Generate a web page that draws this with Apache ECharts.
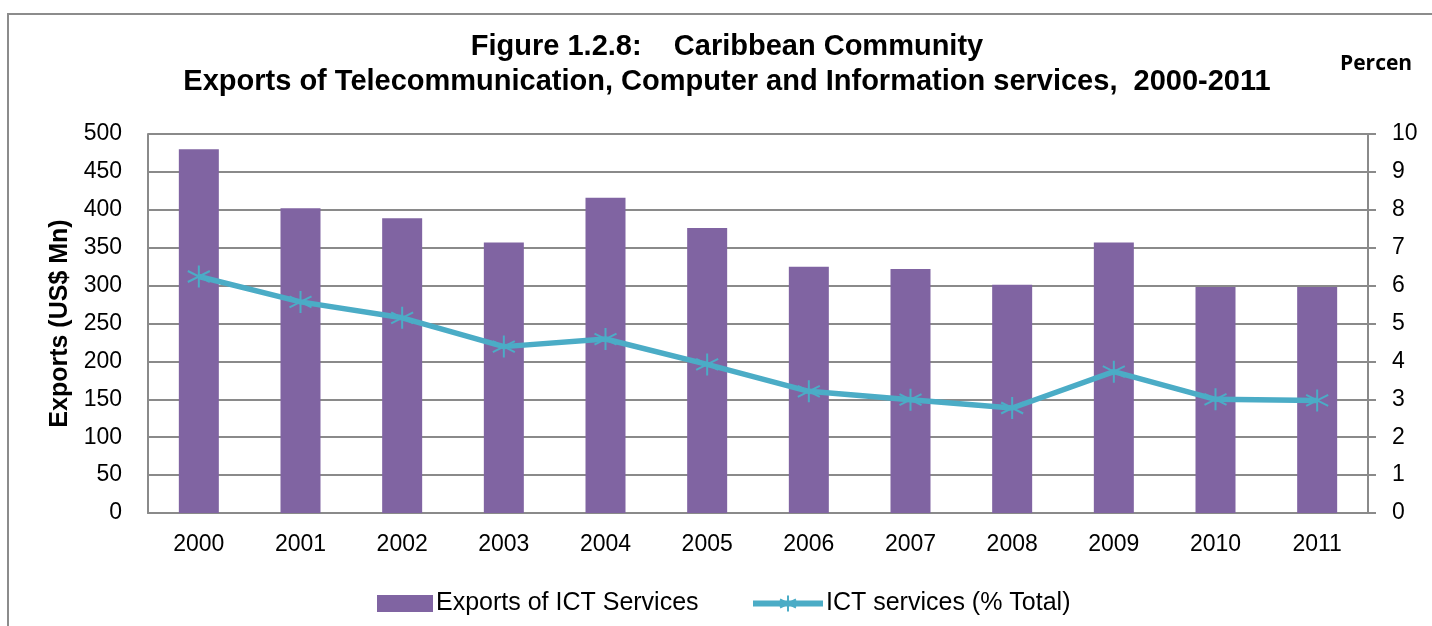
<!DOCTYPE html>
<html>
<head>
<meta charset="utf-8">
<script src="https://cdn.jsdelivr.net/npm/echarts@6/dist/echarts.min.js"></script>
<style>
html,body{margin:0;padding:0;background:#fff;}
#chart{width:1432px;height:626px;}
</style>
</head>
<body>
<div id="chart"></div>
<script>
const years = ['2000','2001','2002','2003','2004','2005','2006','2007','2008','2009','2010','2011'];
const exportsICT = [480, 402, 389, 357, 416, 376, 325, 322, 301, 357, 298, 298];
const ictShare = [6.24, 5.57, 5.15, 4.39, 4.59, 3.92, 3.21, 2.99, 2.77, 3.73, 3.0, 2.97];
const leftTicks = [0, 50, 100, 150, 200, 250, 300, 350, 400, 450, 500];
const rightTicks = [0, 1, 2, 3, 4, 5, 6, 7, 8, 9, 10];

const FONT = '"Liberation Sans", Arial, sans-serif';
const barColor = '#8064a2';
const lineColor = '#4bacc6';
const gridGray = '#8a8a8a';
const star = 'path://M0,-10L0,10M-8.66,-5L8.66,5M-8.66,5L8.66,-5';

const chart = echarts.init(document.getElementById('chart'));
chart.setOption({
  animation: false,
  backgroundColor: '#fff',
  title: {
    text: 'Figure 1.2.8:    Caribbean Community\nExports of Telecommunication, Computer and Information services,  2000-2011',
    left: 722,
    top: 24,
    textAlign: 'center',
    textStyle: {fontFamily: FONT, fontWeight: 'bold', fontSize: 29, lineHeight: 35, color: '#000'}
  },
  graphic: [
    {type: 'rect', shape: {x: 8, y: 14, width: 1500, height: 700}, style: {fill: 'none', stroke: '#8c8c8c', lineWidth: 2}, z: -1},
    {type: 'text', left: 1340, top: 54, style: {text: 'Percen', font: 'bold 21px "Open Sans", Lato, sans-serif', fill: '#000'}}
  ],
  legend: [
    {
      data: [{name: 'Exports of ICT Services', icon: 'rect'}],
      left: 372, top: 586,
      itemWidth: 56, itemHeight: 17, itemGap: 10,
      textStyle: {fontFamily: FONT, fontSize: 25, color: '#000', padding: [0,0,0,-2]}
    },
    {
      data: [{name: 'ICT services (% Total)'}],
      left: 745, top: 586,
      itemWidth: 70, itemHeight: 20,
      lineStyle: {width: 6},
      textStyle: {fontFamily: FONT, fontSize: 25, color: '#000', padding: [0,0,0,-2]}
    }
  ],
  grid: {left: 148, right: 64, top: 134, bottom: 113},
  xAxis: {
    type: 'category',
    data: years,
    axisLine: {show: true, lineStyle: {color: gridGray, width: 2}},
    axisTick: {show: false},
    axisLabel: {fontFamily: FONT, fontSize: 23, color: '#000', margin: 20}
  },
  yAxis: [
    {
      type: 'value', min: 0, max: 500, interval: 50,
      name: 'Exports (US$ Mn)', nameLocation: 'middle', nameGap: 73, nameRotate: 90,
      nameTextStyle: {fontFamily: FONT, fontWeight: 'bold', fontSize: 25, color: '#000'},
      axisLine: {show: true, lineStyle: {color: gridGray, width: 2}},
      axisTick: {show: false},
      axisLabel: {fontFamily: FONT, fontSize: 23, color: '#000', margin: 26},
      splitLine: {show: true, lineStyle: {color: gridGray, width: 2}}
    },
    {
      type: 'value', min: 0, max: 10, interval: 1,
      axisLine: {show: true, lineStyle: {color: gridGray, width: 2}},
      axisTick: {show: true, inside: false, length: 8, lineStyle: {color: gridGray, width: 2}},
      axisLabel: {fontFamily: FONT, fontSize: 23, color: '#000', margin: 24},
      splitLine: {show: false}
    }
  ],
  series: [
    {
      name: 'Exports of ICT Services',
      type: 'bar',
      data: exportsICT,
      barWidth: 40,
      itemStyle: {color: barColor},
      yAxisIndex: 0
    },
    {
      name: 'ICT services (% Total)',
      type: 'line',
      data: ictShare,
      yAxisIndex: 1,
      symbol: star,
      symbolSize: 22,
      showAllSymbol: true,
      lineStyle: {color: lineColor, width: 5.5},
      itemStyle: {color: lineColor, borderColor: lineColor, borderWidth: 2}
    }
  ]
});
</script>
</body>
</html>
